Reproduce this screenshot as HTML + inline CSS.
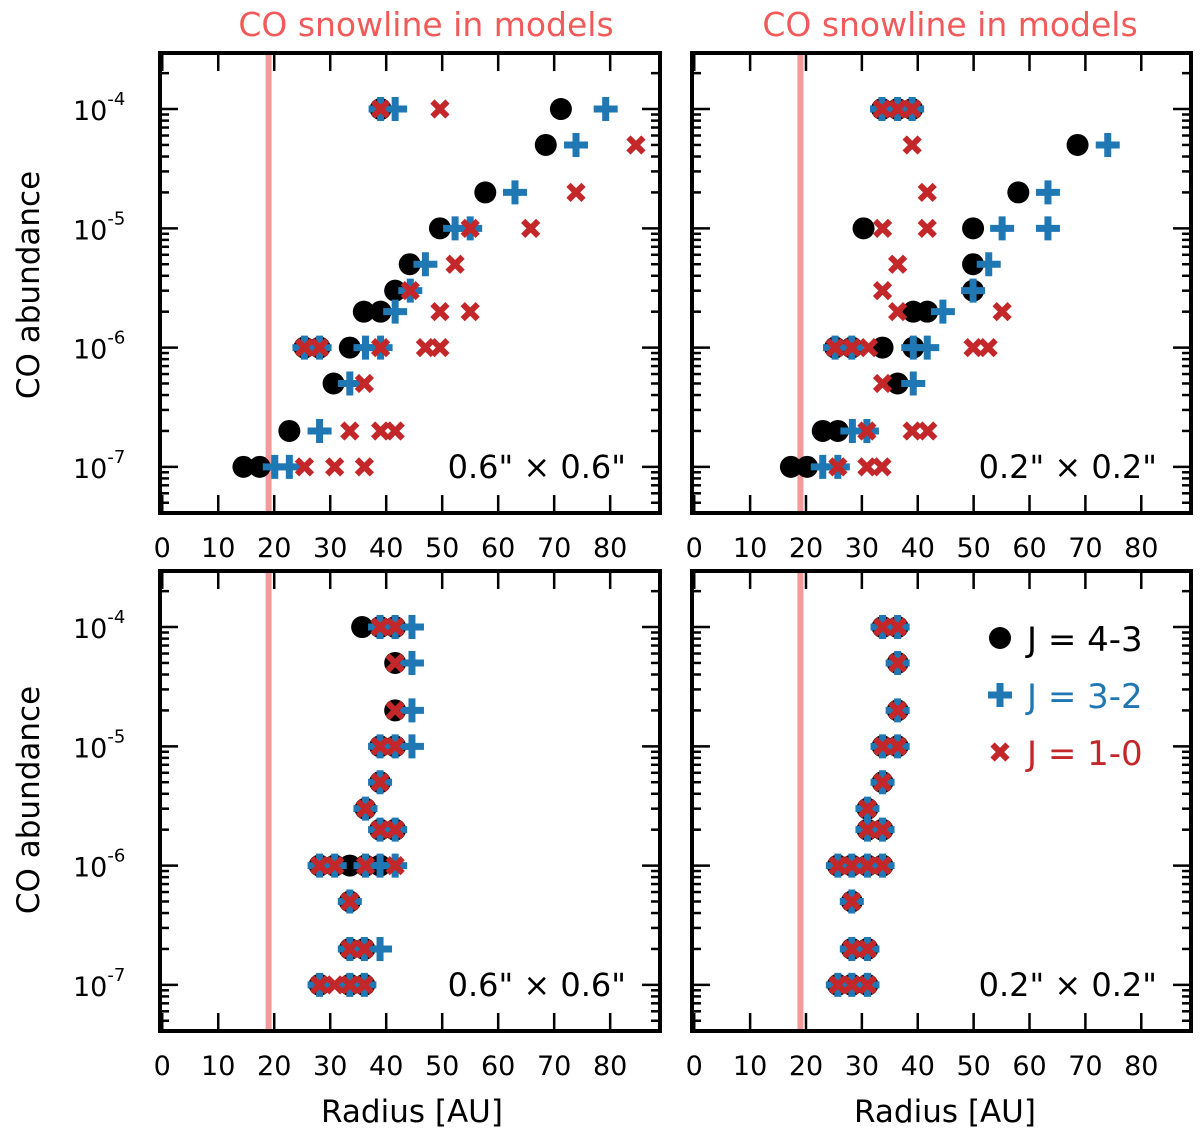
<!DOCTYPE html>
<html><head><meta charset="utf-8"><style>
html,body{margin:0;padding:0;background:#fff;}
svg{display:block;font-family:"DejaVu Sans","Liberation Sans",sans-serif;}
</style></head><body>
<svg id="chart" width="1200" height="1140" viewBox="0 0 1200 1140" xmlns="http://www.w3.org/2000/svg"></svg>
<script>
// ---- data (radius in AU per abundance level) ----
const levels = [1e-4, 5e-5, 2e-5, 1e-5, 5e-6, 3e-6, 2e-6, 1e-6, 5e-7, 2e-7, 1e-7];
const snowline = 19;
const xTicks = [0, 10, 20, 30, 40, 50, 60, 70, 80];
const yTickExps = [-4, -5, -6, -7];
const panelLabels = ['0.6" \u00d7 0.6"', '0.2" \u00d7 0.2"', '0.6" \u00d7 0.6"', '0.2" \u00d7 0.2"'];

// top-left 0.6"
const tlJ43 = [[39,71.2],[68.5],[57.7],[49.6],[44.2],[41.6],[36,39],[25.4,28.1,33.5],[30.6],[22.7],[14.5,17.4]];
const tlJ32 = [[39,41.6,79.2],[73.9],[63],[52.3,55],[47],[44.3],[41.6],[25.4,28.1,36.3,39],[33.5],[28.1],[20.1,22.7]];
const tlJ10 = [[39,49.6],[84.6],[73.9],[55,65.8],[52.3],[44.3],[49.6,55],[25.4,28.1,39,47,49.6],[36.1],[33.5,39,41.6],[25.4,30.8,36.1]];
// top-right 0.2"
const trJ43 = [[33.6,36.4,39],[68.6],[58],[30.3,49.9],[49.9],[49.9],[39.2,41.7],[25.2,28.2,33.7,39.2],[36.4],[23,25.7],[17.3,20.2]];
const trJ32 = [[33.6,36.4,39],[74],[63.3],[55.1,63.3],[52.7],[49.9],[44.5],[25.2,28.2,39.2,41.7],[39.2],[28.3,30.9],[23,25.7]];
const trJ10 = [[33.6,36.4,39],[39],[41.7],[33.7,41.7],[36.4],[33.7],[36.4,55.1],[25.2,28.2,31.2,49.9,52.6],[33.7],[30.9,39,41.8],[25.7,30.9,33.6]];
// bottom-left 0.6"
const blJ43 = [[35.7,38.9,41.6],[41.6],[41.6],[38.9,41.6],[38.9],[36.3],[38.9,41.6],[28.1,30.8,33.5,36.3,38.9],[33.5],[33.5,36.1],[28.1,33.5,36.1]];
const blJ32 = [[38.9,41.6,44.6],[44.6],[44.6],[38.9,41.6,44.6],[38.9],[36.3],[38.9,41.6],[28.1,30.8,36.3,38.9,41.6],[33.5],[33.5,36.1,38.9],[28.1,33.5,36.1]];
const blJ10 = [[38.9,41.6],[41.6],[41.6],[38.9,41.6],[38.9],[36.3],[38.9,41.6],[28.1,30.8,36.3,41.6],[33.5],[33.5,36.1],[28.1,30.8,33.5,36.1]];
// bottom-right 0.2"
const brJ43 = [[33.7,36.4],[36.4],[36.4],[33.7,36.4],[33.7],[31],[31,33.7],[25.7,28.2,31,33.7],[28.2],[28.2,31],[25.7,28.2,31]];
const brJ32 = [[33.7,36.4],[36.4],[36.4],[33.7,36.4],[33.7],[31],[31,33.7],[25.7,28.2,31,33.7],[28.2],[28.2,31],[25.7,28.2,31]];
const brJ10 = [[33.7,36.4],[36.4],[36.4],[33.7,36.4],[33.7],[31],[31,33.7],[25.7,28.2,31,33.7],[28.2],[28.2,31],[25.7,28.2,31]];

const NS = 'http://www.w3.org/2000/svg';
const svg = document.getElementById('chart');
function mk(tag, attrs, parent) {
  const e = document.createElementNS(NS, tag);
  for (const k in attrs) e.setAttribute(k, attrs[k]);
  (parent || svg).appendChild(e);
  return e;
}
const BLUE = '#1f77b4', RED = '#c4272a', PINK = '#f59a9a';
const XMIN = -0.4, XMAX = 88.9, LMAX = -3.53, LMIN = -7.387;

const panels = [
  {x0:160, x1:660, y0:53, y1:513, d:[tlJ43,tlJ32,tlJ10], name:'top-left'},
  {x0:692, x1:1191, y0:53, y1:513, d:[trJ43,trJ32,trJ10], name:'top-right'},
  {x0:160, x1:660, y0:571, y1:1031, d:[blJ43,blJ32,blJ10], name:'bottom-left'},
  {x0:692, x1:1191, y0:571, y1:1031, d:[brJ43,brJ32,brJ10], name:'bottom-right'}
];

panels.forEach((p, pi) => {
  const g = mk('g', {});
  
  
  const sx = v => p.x0 + (v - XMIN) / (XMAX - XMIN) * (p.x1 - p.x0);
  const sy = v => p.y0 + (LMAX - Math.log10(v)) / (LMAX - LMIN) * (p.y1 - p.y0);

  const sl = mk('line', {x1:sx(snowline), x2:sx(snowline), y1:p.y0, y2:p.y1, stroke:PINK, 'stroke-width':6}, g);
  
  

  xTicks.forEach(t => {
    const x = sx(t);
    mk('line', {x1:x, x2:x, y1:p.y1, y2:p.y1-18, stroke:'#000', 'stroke-width':2.5}, g);
    mk('line', {x1:x, x2:x, y1:p.y0, y2:p.y0+18, stroke:'#000', 'stroke-width':2.5}, g);
    const tl = mk('text', {x:x, y:p.y1+44, 'text-anchor':'middle', 'font-size':27, fill:'#000'}, g);
    tl.textContent = t;
    
    
  });
  for (let e = -8; e <= -4; e++) {
    for (let m = 1; m <= 9; m++) {
      const v = m * Math.pow(10, e);
      const l = Math.log10(v);
      if (l > LMAX || l < LMIN) continue;
      const y = sy(v), len = m === 1 ? 18 : 9;
      mk('line', {x1:p.x0, x2:p.x0+len, y1:y, y2:y, stroke:'#000', 'stroke-width':2.5}, g);
      mk('line', {x1:p.x1, x2:p.x1-len, y1:y, y2:y, stroke:'#000', 'stroke-width':2.5}, g);
    }
  }
  if (p.x0 < 300) {
    yTickExps.forEach(ex => {
      const y = sy(Math.pow(10, ex));
      const t = mk('text', {x:73, y:y+11, 'font-size':27, fill:'#000'}, g);
      
      
      const a = mk('tspan', {}, t); a.textContent = '10';
      const b = mk('tspan', {dy:-15, 'font-size':18}, t); b.textContent = String(ex);
    });
  }

  const [d43, d32, d10] = p.d;
  d43.forEach((row, i) => row.forEach(v => {
    const c = mk('circle', {cx:sx(v), cy:sy(levels[i]), r:11, fill:'#000'}, g);
    
    
  }));
  d32.forEach((row, i) => row.forEach(v => {
    const x = sx(v), y = sy(levels[i]);
    const c = mk('path', {d:`M${x-12},${y}H${x+12}M${x},${y-12}V${y+12}`, stroke:BLUE, 'stroke-width':7, fill:'none'}, g);
    
    
  }));
  d10.forEach((row, i) => row.forEach(v => {
    const x = sx(v), y = sy(levels[i]), s = 7.5;
    const c = mk('path', {d:`M${x-s},${y-s}L${x+s},${y+s}M${x-s},${y+s}L${x+s},${y-s}`, stroke:RED, 'stroke-width':6, fill:'none'}, g);
    
    
  }));

  const fr = mk('rect', {x:p.x0, y:p.y0, width:p.x1-p.x0, height:p.y1-p.y0, fill:'none', stroke:'#000', 'stroke-width':4}, g);
  
  

  const an = mk('text', {x:p.x1-34, y:p.y1-35, 'text-anchor':'end', 'font-size':32, fill:'#000'}, g);
  an.textContent = panelLabels[pi];
  
  
});

[[426, 412, 'left'], [950, 945, 'right']].forEach(([x, xr, n]) => {
  const t = mk('text', {x:x, y:36, 'text-anchor':'middle', 'font-size':33, fill:'#f25a5a'});
  t.textContent = 'CO snowline in models';
  
  
  const r = mk('text', {x:xr, y:1122, 'text-anchor':'middle', 'font-size':31, fill:'#000'});
  r.textContent = 'Radius [AU]';
  
  
});
[285, 800].forEach(y => {
  const t = mk('text', {x:0, y:0, 'text-anchor':'middle', 'font-size':31, fill:'#000', transform:`translate(39,${y}) rotate(-90)`});
  t.textContent = 'CO abundance';
  
  
});

const lg = mk('g', {});


const legY = [638, 695, 752];
mk('circle', {cx:1000, cy:legY[0], r:11, fill:'#000'}, lg);
mk('path', {d:`M988,${legY[1]}H1012M1000,${legY[1]-12}V${legY[1]+12}`, stroke:BLUE, 'stroke-width':7}, lg);
mk('path', {d:`M992.5,${legY[2]-7.5}L1007.5,${legY[2]+7.5}M992.5,${legY[2]+7.5}L1007.5,${legY[2]-7.5}`, stroke:RED, 'stroke-width':6}, lg);
[['J = 4-3', '#000'], ['J = 3-2', BLUE], ['J = 1-0', RED]].forEach(([s, c], i) => {
  const t = mk('text', {x:1027, y:legY[i]+13, 'font-size':34, fill:c}, lg);
  t.textContent = s;
  
  
});
</script>
</body></html>
